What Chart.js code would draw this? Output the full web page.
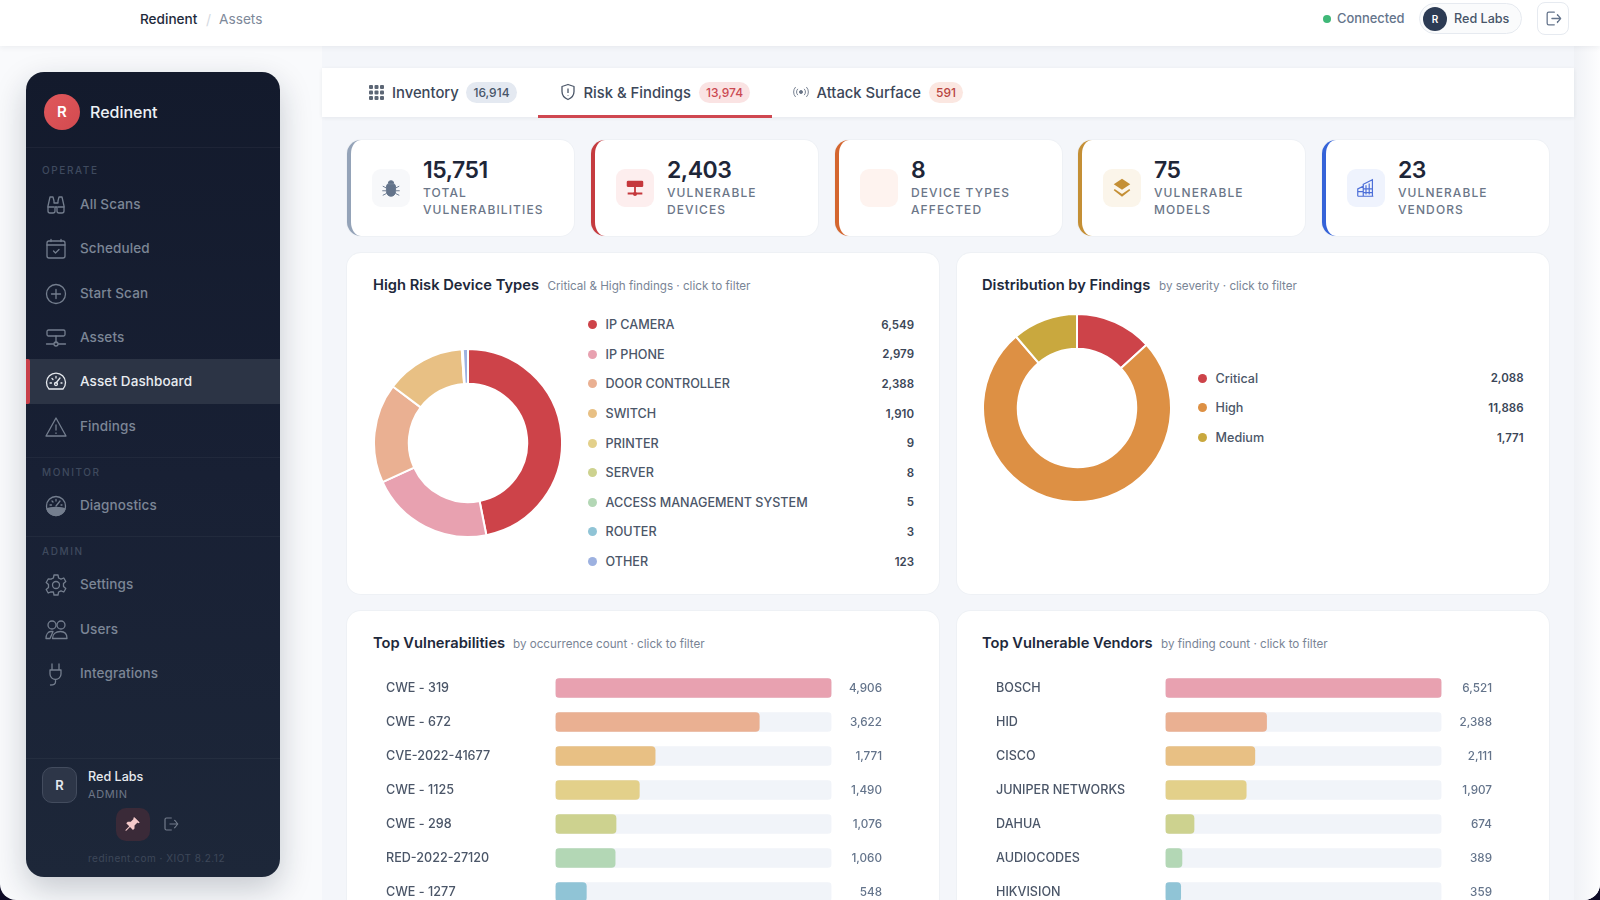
<!DOCTYPE html>
<html lang="en">
<head>
<meta charset="utf-8">
<title>Redinent - Assets</title>
<script src="https://cdn.jsdelivr.net/npm/chart.js@4"></script>
<style>
  html, body { margin: 0; width: 1600px; height: 900px; overflow: hidden; background: #0e0b26; }
  body, canvas { font-family: 'Inter', 'Noto Sans', sans-serif; }
  #app { position: absolute; left: 0; top: 0; width: 1600px; height: 900px; overflow: hidden; background: #f9fafc;
         border-radius: 0 0 16px 16px; }
  .abs, #app div, #app span, #app canvas, #app svg { position: absolute; }
  .nw { white-space: nowrap; line-height: 1; }

  /* top bar */
  #main { left: 322px; top: 46px; width: 1252px; height: 854px; background: #f4f6fa; }
  #strip { left: 1574px; top: 46px; width: 26px; height: 854px; background: linear-gradient(90deg, #f0f2f6, #fdfdfe); }
  #topbar { left: 0; top: 0; width: 1600px; height: 46px; background: #fff; box-shadow: 0 1px 6px rgba(30,41,59,.07); }

  /* sidebar */
  #side { left: 26px; top: 72px; width: 254px; height: 805px; border-radius: 18px; overflow: hidden;
          background: linear-gradient(180deg, #131a2c 0%, #182034 50%, #1d2739 100%);
          box-shadow: 0 12px 32px rgba(20,30,50,.22); }
  .rule { left: 0; width: 254px; height: 1px; background: rgba(255,255,255,.045); }
  .sect { left: 16px; font-size: 10px; font-weight: 500; letter-spacing: 1.6px; color: #3f4a5e; }
  .nav { left: 54px; font-size: 13.5px; font-weight: 500; color: #7c8696; letter-spacing: .1px; }
  .ico { left: 18px; width: 24px; height: 24px; fill: none; stroke: #747e8e; stroke-width: 1.3; stroke-linecap: round; stroke-linejoin: round; }

  /* tabs */
  #tabs { left: 322px; top: 68px; width: 1252px; height: 49px; background: #fff; box-shadow: 0 1px 4px rgba(30,41,59,.07); }
  .tab { font-size: 14.8px; font-weight: 500; color: #3c4759; }
  .badge { height: 21px; top: 82px; border-radius: 11px; font-size: 12px; font-weight: 500; line-height: 21px; text-align: center; }

  /* kpi cards */
  .kpi { top: 140px; width: 227px; height: 96px; box-sizing: border-box; background: #fff; border-left: 4px solid #94a3b8;
         border-radius: 14px; box-shadow: 0 0 0 1px #eef1f5; }
  .kbox { left: 21px; top: 29px; width: 38px; height: 38px; border-radius: 9px; }
  .kval { left: 72px; top: 19px; font-size: 23px; letter-spacing: -.5px; font-weight: 600; color: #1e2638; }
  .klab { left: 72px; font-size: 12px; font-weight: 500; letter-spacing: 1.1px; color: #6b7688; }

  /* panels */
  .panel { background: #fff; border-radius: 14px; box-shadow: 0 0 0 1px #eef1f5; }
  .ptitle { font-size: 14.7px; font-weight: 600; color: #1e293b; }
  .psub { font-size: 11.65px; color: #7a8596; }
  .dot { width: 9px; height: 9px; border-radius: 50%; }
  .llab { font-size: 12.6px; font-weight: 500; color: #4b5668; }
  .lval { font-size: 11.5px; font-weight: 600; color: #3b4657; text-align: right; }
</style>
</head>
<body>
<div id="app">
  <div id="main"></div>
  <div id="strip"></div>
  <div id="topbar"></div>

  <span class="nw" style="left:140px;top:13px;font-size:13.6px;font-weight:500;color:#1e293b">Redinent</span>
  <span class="nw" style="left:206px;top:13px;font-size:14px;color:#d4d9e1">/</span>
  <span class="nw" style="left:219px;top:13px;font-size:13.7px;color:#7d8899">Assets</span>

  <div style="left:1323px;top:15px;width:8px;height:8px;border-radius:50%;background:#3fb878"></div>
  <span class="nw" style="left:1337px;top:13px;font-size:12.9px;font-weight:500;color:#64748b">Connected</span>
  <div style="left:1419px;top:3px;width:103px;height:31px;box-sizing:border-box;border-radius:16px;background:#fafbfc;border:1px solid #e6eaf0"></div>
  <div style="left:1423px;top:7px;width:24px;height:24px;border-radius:50%;background:#2c3b54;color:#fff;font-size:10px;font-weight:600;line-height:24px;text-align:center">R</div>
  <span class="nw" style="left:1454px;top:13px;font-size:12.6px;font-weight:500;color:#475569">Red Labs</span>
  <div style="left:1537px;top:2px;width:32px;height:33px;box-sizing:border-box;border-radius:8px;background:#fff;border:1px solid #e6eaf0"></div>
  <svg viewBox="0 0 24 24" style="left:1544px;top:9px;width:19px;height:19px;fill:none;stroke:#64748b;stroke-width:1.6;stroke-linejoin:round;stroke-linecap:round"><path d="M13 4H6a2 2 0 0 0-2 2v12a2 2 0 0 0 2 2h7M10 12h11M17 8v-1l4 5-4 5v-1"/></svg>

  <div id="side">
    <div style="left:18px;top:22px;width:36px;height:36px;border-radius:50%;background:linear-gradient(135deg,#e0585c,#d24a4f);color:#fff;font-size:15px;font-weight:600;line-height:36px;text-align:center">R</div>
    <span class="nw" style="left:64px;top:32px;font-size:16px;font-weight:500;color:#eef1f5">Redinent</span>
    <div class="rule" style="top:75px"></div>

    <span class="nw sect" style="top:93px">OPERATE</span>
    <div style="left:0;top:287px;width:254px;height:45px;background:#2c3445"></div>
    <div style="left:0;top:287px;width:4px;height:45px;background:#c8404a;border-radius:0 2px 2px 0"></div>

    <div class="rule" style="top:385px"></div>
    <span class="nw sect" style="top:395px">MONITOR</span>
    <div class="rule" style="top:464px"></div>
    <span class="nw sect" style="top:474px">ADMIN</span>
    <div class="rule" style="top:686px"></div>

    <div style="left:16px;top:695px;width:35px;height:36px;box-sizing:border-box;border-radius:10px;background:#2d3648;border:1px solid #434c5e;color:#e5e8ee;font-size:13px;font-weight:600;line-height:34px;text-align:center">R</div>
    <span class="nw" style="left:62px;top:699px;font-size:12.6px;font-weight:500;color:#e7eaef">Red Labs</span>
    <span class="nw" style="left:62px;top:717px;font-size:11px;letter-spacing:.6px;color:#6d7687">ADMIN</span>
    <div style="left:90px;top:736px;width:34px;height:33px;border-radius:10px;background:#3a2a38"></div>
    <svg viewBox="0 0 24 24" style="left:98px;top:743px;width:18px;height:18px;fill:#f4c9c9"><path d="M14 3l7 7-2 1-1-1-4 4 0 4-2 2-4-4-5 5-1 0 0-1 5-5-4-4 2-2 4 0 4-4-1-1z"/></svg>
    <svg viewBox="0 0 24 24" style="left:136px;top:743px;width:18px;height:18px;fill:none;stroke:#727b8b;stroke-width:1.6;stroke-linejoin:round"><path d="M13 4H6a2 2 0 0 0-2 2v12a2 2 0 0 0 2 2h7M10 12h11M17 8v-1l4 5-4 5v-1"/></svg>
    <span class="nw" style="left:62px;top:781px;font-size:10px;letter-spacing:.5px;color:#3e4859">redinent.com · XIOT 8.2.12</span>
  </div>

  <div id="tabs"></div>
  <div style="left:538px;top:115px;width:234px;height:3px;background:#cf4750"></div>

  <svg viewBox="0 0 15 15" style="left:369px;top:85px;width:15px;height:15px;fill:#5c6675"><rect x="0" y="0" width="4" height="4" rx="1"/><rect x="5.5" y="0" width="4" height="4" rx="1"/><rect x="11" y="0" width="4" height="4" rx="1"/><rect x="0" y="5.5" width="4" height="4" rx="1"/><rect x="5.5" y="5.5" width="4" height="4" rx="1"/><rect x="11" y="5.5" width="4" height="4" rx="1"/><rect x="0" y="11" width="4" height="4" rx="1"/><rect x="5.5" y="11" width="4" height="4" rx="1"/><rect x="11" y="11" width="4" height="4" rx="1"/></svg>
  <span class="nw tab" style="left:392px;top:86px">Inventory</span>
  <div class="badge" style="left:466px;width:51px;background:#e4e9f1;color:#475569">16,914</div>

  <svg viewBox="0 0 16 18" style="left:560px;top:83px;width:16px;height:18px;fill:none;stroke:#4b5668;stroke-width:1.3;stroke-linejoin:round"><path d="M8 1.5l6 2v5c0 4-2.6 6.6-6 8-3.4-1.400-6-4-6-8v-5z"/><path d="M8 5.500v4.500M8 12v.6"/></svg>
  <span class="nw tab" style="left:583.5px;top:86px">Risk &amp; Findings</span>
  <div class="badge" style="left:699px;width:51px;background:#fae3e3;color:#cb4a52">13,974</div>

  <svg viewBox="0 0 20 14" style="left:792px;top:85px;width:18px;height:14px;fill:none;stroke:#687384;stroke-width:1"><circle cx="10" cy="7" r="1.700" fill="#687384"/><path d="M6.500 3.500a5 5 0 0 0 0 7M13.500 3.500a5 5 0 0 1 0 7M4 1.500a8 8 0 0 0 0 11M16 1.500a8 8 0 0 1 0 11"/></svg>
  <span class="nw tab" style="left:816.5px;top:86px">Attack Surface</span>
  <div class="badge" style="left:929px;width:34px;background:#fbe7e1;color:#b8453f">591</div>

  <div class="panel" style="left:347px;top:253px;width:592px;height:341px"></div>
  <div class="panel" style="left:957px;top:253px;width:592px;height:341px"></div>
  <div class="panel" style="left:347px;top:611px;width:592px;height:320px"></div>
  <div class="panel" style="left:957px;top:611px;width:592px;height:320px"></div>

  <span class="nw ptitle" style="left:373px;top:278px">High Risk Device Types</span>
  <span class="nw psub" style="left:547.5px;top:281px">Critical &amp; High findings · click to filter</span>
  <span class="nw ptitle" style="left:982px;top:278px">Distribution by Findings</span>
  <span class="nw psub" style="left:1159px;top:281px">by severity · click to filter</span>
  <span class="nw ptitle" style="left:373px;top:636px">Top Vulnerabilities</span>
  <span class="nw psub" style="left:513px;top:639px">by occurrence count · click to filter</span>
  <span class="nw ptitle" style="left:982px;top:636px">Top Vulnerable Vendors</span>
  <span class="nw psub" style="left:1161px;top:639px">by finding count · click to filter</span>

  <canvas id="donutTypes" width="190" height="190" style="left:373px;top:348px"></canvas>
  <canvas id="donutSeverity" width="190" height="190" style="left:982px;top:313px"></canvas>
  <canvas id="barVulns" width="496" height="238" style="left:386px;top:671px"></canvas>
  <canvas id="barVendors" width="496" height="238" style="left:995.5px;top:671px"></canvas>
</div>

<script>
// ----- data -----
const typeLabels = ['IP CAMERA', 'IP PHONE', 'DOOR CONTROLLER', 'SWITCH', 'PRINTER', 'SERVER', 'ACCESS MANAGEMENT SYSTEM', 'ROUTER', 'OTHER'];
const typeValues = [6549, 2979, 2388, 1910, 9, 8, 5, 3, 123];
const typeColors = ['#cd4349', '#e8a1b0', '#eab092', '#e8c084', '#e3d08a', '#cdd28f', '#b3d7b5', '#90c4d6', '#9db1e0'];

const severityLabels = ['Critical', 'High', 'Medium'];
const severityValues = [2088, 11886, 1771];
const severityColors = ['#cd4349', '#dd9044', '#c9a83e'];

const vulnLabels = ['CWE - 319', 'CWE - 672', 'CVE-2022-41677', 'CWE - 1125', 'CWE - 298', 'RED-2022-27120', 'CWE - 1277'];
const vulnValues = [4906, 3622, 1771, 1490, 1076, 1060, 548];

const vendorLabels = ['BOSCH', 'HID', 'CISCO', 'JUNIPER NETWORKS', 'DAHUA', 'AUDIOCODES', 'HIKVISION'];
const vendorValues = [6521, 2388, 2111, 1907, 674, 389, 359];

const barColors = ['#e8a1b0', '#eab092', '#e8c084', '#e3d08a', '#cdd28f', '#b3d7b5', '#90c4d6'];

const kpiValues = ['15,751', '2,403', '8', '75', '23'];
const kpiLabels = [['TOTAL', 'VULNERABILITIES'], ['VULNERABLE', 'DEVICES'], ['DEVICE TYPES', 'AFFECTED'], ['VULNERABLE', 'MODELS'], ['VULNERABLE', 'VENDORS']];
const kpiColors = ['#94a3b8', '#c53b3f', '#d4662f', '#c48f35', '#3563d8'];
const kpiTints = ['#f7f8fa', '#fdeeee', '#fef3ef', '#fbf5ea', '#eff3fd'];

const navLabels = ['All Scans', 'Scheduled', 'Start Scan', 'Assets', 'Asset Dashboard', 'Findings', 'Diagnostics', 'Settings', 'Users', 'Integrations'];

// ----- page furniture -----
const app = document.getElementById('app');
const side = document.getElementById('side');
const fmt = (n) => n.toLocaleString('en-US');

function add(parent, html) {
  parent.insertAdjacentHTML('beforeend', html);
}

const navTops = [133, 177, 222, 266, 310, 355, 434, 513, 558, 602];
const navIcons = [
  '<path d="M6 4h3l1 4v2h4V8l1-4h3l2 9v5a2 2 0 0 1-2 2h-3a2 2 0 0 1-2-2v-4h-2v4a2 2 0 0 1-2 2H6a2 2 0 0 1-2-2v-5z"/><path d="M4 14h6M14 14h6"/>',
  '<rect x="3" y="4" width="18" height="17" rx="2"/><path d="M3 8h18M7 2.500v2M17 2.500v2M9.500 14l2 2 3.500-3.500"/>',
  '<circle cx="12" cy="12" r="9.500"/><path d="M12 7.500v9M7.500 12h9"/>',
  '<rect x="3" y="4" width="18" height="6" rx="1.500"/><path d="M12 10v7M2.500 18h7M14.500 18h7"/><circle cx="12" cy="18" r="2"/>',
  '<path d="M5 19a9.500 9.500 0 1 1 14 0z"/><path d="M12 13l4-5M6 13h1.500M8 8.500l1 1M12 6.500v1.500M18 13h-1"/><circle cx="12" cy="14" r="1.500"/>',
  '<path d="M12 3l10 18H2z"/><path d="M12 10v5M12 18v.4"/>',
  '<circle cx="12" cy="12" r="9.500"/><path d="M12 12l4-5M6 11h1.500M8 7l1 1M12 5.500V7M18 11h-1"/><path d="M3 15c3-2 15-2 18 0-1 4-5 6.500-9 6.500s-8-2.500-9-6.500z" fill="#747e8e"/>',
  '<circle cx="12" cy="12" r="3.500"/><path d="M10 2h4l.6 3 2.400 1.200 2.800-1.200 2 3.500-2.300 2v3l2.300 2-2 3.500-2.800-1.200-2.400 1.200-.6 3h-4l-.6-3L7 18.800 4.200 20l-2-3.500 2.300-2v-3l-2.300-2 2-3.500L7 6.200 9.400 5z"/>',
  '<circle cx="8" cy="7" r="4"/><circle cx="17" cy="7" r="4"/><path d="M2 20.500c0-4 2-7 5-7h2l-3 7zM8.500 20.500c0-4 3-7 8-7s6.500 3 6.500 7z"/>',
  '<path d="M8 2v6M15 2v6M6 8h11v4a5.500 5.500 0 0 1-11 0zM11.500 17.500V20c0 2-2 3-5 3"/>'
];

navLabels.forEach((label, i) => {
  const active = i === 4;
  add(side, `<svg class="ico" viewBox="0 0 24 24" style="top:${navTops[i] - 12}px${active ? ';stroke:#e6e9ee' : ''}">${navIcons[i]}</svg>`);
  add(side, `<span class="nw nav" style="top:${navTops[i] - 7}px${active ? ';color:#e9ecf1' : ''}">${label}</span>`);
});

const kpiIcons = [
  '<path d="M8 8h8a5 5 0 0 1 1 3v5a5 5 0 0 1-10 0v-5a5 5 0 0 1 1-3z M9 7a3 3 0 0 1 6 0z M3 10l4 2M21 10l-4 2M3 20l4-2M21 20l-4-2M2.500 15h4M21.500 15h-4" fill="#64748b" stroke="#64748b" stroke-width="1"/>',
  '<rect x="3" y="4" width="18" height="7" rx="1.500" fill="#c5383c"/><path d="M12 11v8M4 18h16" stroke="#c5383c" stroke-width="2"/><circle cx="12" cy="18.500" r="2.200" fill="#c5383c"/>',
  '',
  '<path d="M12 2l9 6-9 6-9-6z" fill="#c48f35"/><path d="M4 13l8 5.500 8-5.500 1 1.500-9 7-9-7z" fill="#c48f35"/>',
  '<path d="M3 21v-8l6-3v11M9 21V8l10-5v18zM3 21h17M12 9v10M15.500 7v12M3 16h6M9 13h10M9 17h10" fill="none" stroke="#4d6fd8" stroke-width="1.300"/>'
];
const kpiLefts = [347, 591, 835, 1078, 1322];
kpiValues.forEach((val, i) => {
  add(app, `<div class="kpi" style="left:${kpiLefts[i]}px;border-left-color:${kpiColors[i]}">
    <div class="kbox" style="background:${kpiTints[i]}"><svg viewBox="0 0 24 24" style="left:8px;top:8px;width:22px;height:22px">${kpiIcons[i]}</svg></div>
    <span class="nw kval">${val}</span>
    <span class="nw klab" style="top:47px">${kpiLabels[i][0]}</span>
    <span class="nw klab" style="top:64px">${kpiLabels[i][1]}</span>
  </div>`);
});

function addLegend(labels, values, colors, dotX, rightX, firstY) {
  labels.forEach((label, i) => {
    const y = firstY + i * 29.6;
    add(app, `<div class="dot" style="left:${dotX - 4.5}px;top:${y - 4.5}px;background:${colors[i]}"></div>`);
    add(app, `<span class="nw llab" style="left:${dotX + 13.5}px;top:${y - 5.5}px">${label}</span>`);
    add(app, `<span class="nw lval" style="right:${1600 - rightX}px;top:${y - 5}px">${fmt(values[i])}</span>`);
  });
}
addLegend(typeLabels, typeValues, typeColors, 592, 914, 324.7);
addLegend(severityLabels, severityValues, severityColors, 1202, 1523.5, 378.3);

// ----- charts -----
Chart.defaults.font.family = "'Inter','Noto Sans',sans-serif";
Chart.defaults.animation = false;
Chart.defaults.responsive = false;
Chart.defaults.plugins.legend.display = false;
Chart.defaults.plugins.tooltip.enabled = false;

function buildDonut(id, labels, values, colors) {
  new Chart(document.getElementById(id), {
    type: 'doughnut',
    data: {
      labels: labels,
      datasets: [{ data: values, backgroundColor: colors, borderColor: '#fff', borderWidth: 2, hoverOffset: 0 }]
    },
    options: { cutout: '63%' }
  });
}

// fixed axis gutter, and no label overhang, so every row keeps the full band height
function fixAxis(width) {
  return (s) => {
    s.width = width;
    s.paddingTop = 0;
    s.paddingBottom = 0;
  };
}

function buildBars(id, labels, values) {
  const top = Math.max(...values);
  new Chart(document.getElementById(id), {
    type: 'bar',
    data: {
      labels: labels,
      datasets: [
        { data: values, backgroundColor: barColors, borderRadius: 4, borderSkipped: false, barThickness: 19, grouped: false, order: 1 },
        { data: labels.map(() => top), backgroundColor: '#f1f4f9', borderRadius: 4, borderSkipped: false, barThickness: 19, grouped: false, order: 2 }
      ]
    },
    options: {
      indexAxis: 'y',
      layout: { padding: 0 },
      scales: {
        x: { display: false, min: 0, max: top },
        y: {
          afterFit: fixAxis(169.5),
          grid: { display: false },
          border: { display: false },
          ticks: { autoSkip: false, crossAlign: 'far', padding: 0, color: '#4b5668', font: { size: 12.6, weight: '500' } }
        },
        y2: {
          type: 'category',
          position: 'right',
          offset: true,
          labels: values.map(fmt),
          afterFit: fixAxis(50.5),
          grid: { display: false },
          border: { display: false },
          ticks: { autoSkip: false, crossAlign: 'far', padding: 0, color: '#64748b', font: { size: 11.7, weight: '500' } }
        }
      }
    }
  });
}

buildDonut('donutTypes', typeLabels, typeValues, typeColors);
buildDonut('donutSeverity', severityLabels, severityValues, severityColors);
buildBars('barVulns', vulnLabels, vulnValues);
buildBars('barVendors', vendorLabels, vendorValues);
</script>
</body>
</html>
